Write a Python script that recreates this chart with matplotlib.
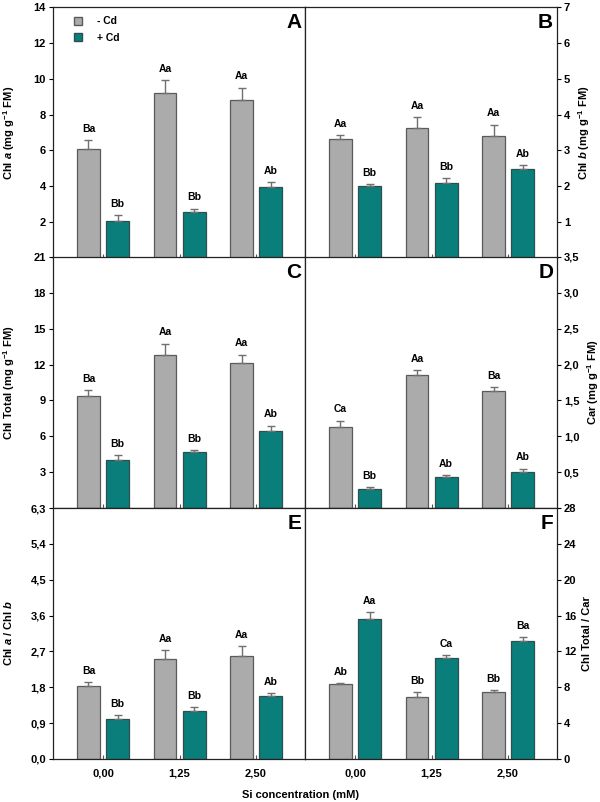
import numpy as np
import matplotlib
matplotlib.use('Agg')
from matplotlib import pyplot as plt
from matplotlib.ticker import FuncFormatter

plt.rcParams['font.family'] = ['Liberation Sans', 'DejaVu Sans']
plt.rcParams['font.weight'] = 'bold'
plt.rcParams['mathtext.fontset'] = 'custom'
plt.rcParams['mathtext.rm'] = 'Liberation Sans:bold'
plt.rcParams['mathtext.it'] = 'Liberation Sans:italic:bold'
plt.rcParams['mathtext.bf'] = 'Liberation Sans:bold'

si_labels = ['0,00', '1,25', '2,50']

# panel A - Chl a
chla_minus = [6.09, 9.19, 8.80]
chla_minus_err = [0.47, 0.74, 0.70]
chla_plus = [2.04, 2.57, 3.94]
chla_plus_err = [0.37, 0.19, 0.30]
chla_let_minus = ['Ba', 'Aa', 'Aa']
chla_let_plus = ['Bb', 'Bb', 'Ab']

# panel B - Chl b
chlb_minus = [3.31, 3.63, 3.40]
chlb_minus_err = [0.11, 0.30, 0.32]
chlb_plus = [2.00, 2.10, 2.49]
chlb_plus_err = [0.07, 0.12, 0.09]
chlb_let_minus = ['Aa', 'Aa', 'Aa']
chlb_let_plus = ['Bb', 'Bb', 'Ab']

# panel C - Chl total
chlt_minus = [9.36, 12.81, 12.17]
chlt_minus_err = [0.48, 0.94, 0.67]
chlt_plus = [4.02, 4.66, 6.42]
chlt_plus_err = [0.42, 0.17, 0.47]
chlt_let_minus = ['Ba', 'Aa', 'Aa']
chlt_let_plus = ['Bb', 'Bb', 'Ab']

# panel D - Car
car_minus = [1.135, 1.85, 1.63]
car_minus_err = [0.085, 0.07, 0.06]
car_plus = [0.265, 0.43, 0.50]
car_plus_err = [0.025, 0.03, 0.05]
car_let_minus = ['Ca', 'Aa', 'Ba']
car_let_plus = ['Bb', 'Ab', 'Ab']

# panel E - Chl a / Chl b
ab_minus = [1.83, 2.52, 2.58]
ab_minus_err = [0.10, 0.22, 0.25]
ab_plus = [1.01, 1.21, 1.57]
ab_plus_err = [0.10, 0.10, 0.09]
ab_let_minus = ['Ba', 'Aa', 'Aa']
ab_let_plus = ['Bb', 'Bb', 'Ab']

# panel F - Chl total / Car
tc_minus = [8.33, 6.96, 7.44]
tc_minus_err = [0.15, 0.48, 0.26]
tc_plus = [15.6, 11.22, 13.15]
tc_plus_err = [0.76, 0.37, 0.41]
tc_let_minus = ['Ab', 'Bb', 'Bb']
tc_let_plus = ['Aa', 'Ca', 'Ba']

gray = '#ABABAB'
teal = '#0A7E7A'
fmt = FuncFormatter(lambda v, p: ('%g' % round(v, 2)).replace('.', ','))
fmt1 = FuncFormatter(lambda v, p: ('%.1f' % v).replace('.', ','))

panels = [
    ('A', chla_minus, chla_minus_err, chla_plus, chla_plus_err, chla_let_minus, chla_let_plus,
     14, np.arange(2, 15, 2), fmt, r'Chl $\it{a}$ (mg g$^{-1}$ FM)'),
    ('B', chlb_minus, chlb_minus_err, chlb_plus, chlb_plus_err, chlb_let_minus, chlb_let_plus,
     7, np.arange(1, 8, 1), fmt, r'Chl $\it{b}$ (mg g$^{-1}$ FM)'),
    ('C', chlt_minus, chlt_minus_err, chlt_plus, chlt_plus_err, chlt_let_minus, chlt_let_plus,
     21, np.arange(3, 22, 3), fmt, r'Chl Total (mg g$^{-1}$ FM)'),
    ('D', car_minus, car_minus_err, car_plus, car_plus_err, car_let_minus, car_let_plus,
     3.5, np.arange(0.5, 3.6, 0.5), fmt1, r'Car (mg g$^{-1}$ FM)'),
    ('E', ab_minus, ab_minus_err, ab_plus, ab_plus_err, ab_let_minus, ab_let_plus,
     6.3, np.arange(0, 6.4, 0.9), fmt1, r'Chl $\it{a}$ / Chl $\it{b}$'),
    ('F', tc_minus, tc_minus_err, tc_plus, tc_plus_err, tc_let_minus, tc_let_plus,
     28, np.arange(0, 29, 4), fmt, r'Chl Total / Car'),
]

fig = plt.figure(figsize=(6, 8.02), dpi=100)
lefts = [53 / 600, 305 / 600]
w = 252 / 600
tops = [7, 257, 508]
h = 251 / 802

x = np.arange(3)
bw = 0.30
off = 0.19

for i, (letter, gm, ge, tm, te, lm, lp, ymax, yt, f, ylab) in enumerate(panels):
    row, col = i // 2, i % 2
    ax = fig.add_axes([lefts[col], 1 - (tops[row] + 251) / 802, w, h])
    ax.bar(x - off, gm, bw, color=gray, edgecolor='#5a5a5a', linewidth=0.9,
           yerr=[np.zeros(3), ge], error_kw=dict(ecolor='#707070', capsize=3, elinewidth=1, capthick=1))
    ax.bar(x + off, tm, bw, color=teal, edgecolor='#2f4f4f', linewidth=0.9,
           yerr=[np.zeros(3), te], error_kw=dict(ecolor='#707070', capsize=3, elinewidth=1, capthick=1))
    for j in range(3):
        ax.text(x[j] - off, gm[j] + ge[j] + ymax * 0.025, lm[j], ha='center', va='bottom',
                fontsize=7.5, fontweight='bold')
        ax.text(x[j] + off, tm[j] + te[j] + ymax * 0.025, lp[j], ha='center', va='bottom',
                fontsize=7.5, fontweight='bold')
    ax.set_xlim(-0.654, 2.64)
    ax.set_ylim(0, ymax)
    ax.set_yticks(yt)
    ax.yaxis.set_major_formatter(f)
    ax.set_xticks(x)
    ax.tick_params(axis='x', direction='in', length=3, width=0.8, colors='#555555')
    ax.tick_params(axis='y', direction='out', length=3, width=0.8, labelsize=8, pad=2)
    if row == 2:
        ax.set_xticklabels(si_labels, fontsize=8, fontweight='bold')
        ax.tick_params(axis='x', pad=7, labelcolor='black')
    else:
        ax.set_xticklabels([])
    if col == 1:
        ax.yaxis.tick_right()
        ax.yaxis.set_label_position('right')
        ax.set_ylabel(ylab, fontsize=8, fontweight='bold', labelpad=4)
    else:
        ax.set_ylabel(ylab, fontsize=8, fontweight='bold', labelpad=12)
    for s in ax.spines.values():
        s.set_linewidth(0.9)
        s.set_color('#222222')
    ax.text(0.985, 0.975, letter, transform=ax.transAxes, ha='right', va='top',
            fontsize=15, fontweight='bold')
    if letter == 'A':
        ax.bar([0], [0], color=gray, edgecolor='#5a5a5a', label='- Cd')
        ax.bar([0], [0], color=teal, edgecolor='#2f4f4f', label='+ Cd')
        hs, ls = ax.get_legend_handles_labels()
        ax.legend(hs[-2:], ls[-2:], loc='upper left', frameon=False, fontsize=7.5,
                  handlelength=0.8, handleheight=0.8, handletextpad=1.4,
                  bbox_to_anchor=(0.045, 1.0), labelspacing=0.6)

fig.text(0.5, 1 - 795 / 802, 'Si concentration (mM)', ha='center', va='center',
         fontsize=8, fontweight='bold')

fig.savefig('out.png', dpi=100)
